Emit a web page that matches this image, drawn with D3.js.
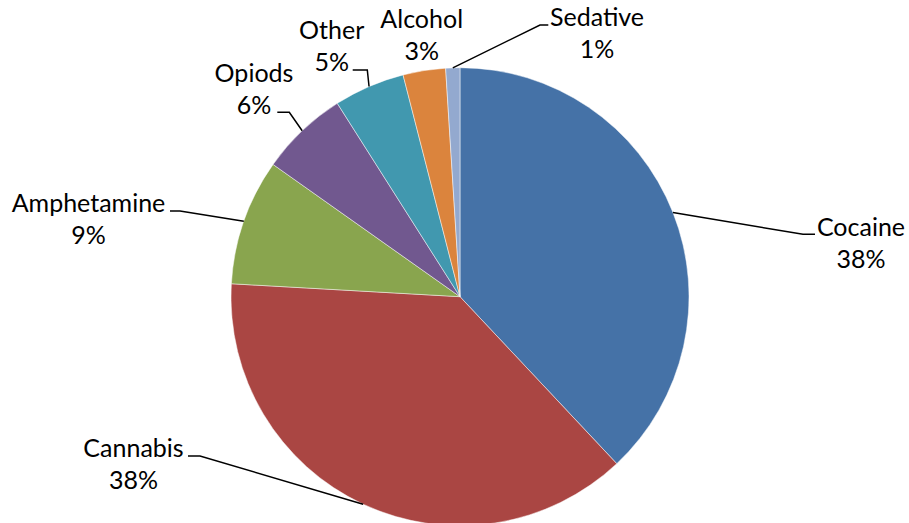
<!DOCTYPE html>
<html>
<head>
<meta charset="utf-8">
<script src="https://cdn.jsdelivr.net/npm/d3@7/dist/d3.min.js"></script>
<style>
html,body{margin:0;padding:0;background:#fff;}
svg{display:block;}
text{font-family:Lato,"Noto Sans",sans-serif;font-size:25px;fill:#000;}
</style>
</head>
<body>
<svg id="chart" width="909" height="523"></svg>
<script>
// Data
const categories = ["Cocaine","Cannabis","Amphetamine","Opiods","Other","Alcohol","Sedative"];
const values = [38.0, 37.9, 8.9, 6.2, 5.0, 3.0, 1.0];
const percentLabels = ["38%","38%","9%","6%","5%","3%","1%"];
const colors = ["#4572A7","#AA4643","#89A54E","#71588F","#4198AF","#DB843D","#93A9CF"];

// Label layout (relative to pie centre): elbow point, line end x, text centre x, first baseline
const labelLayout = [
  {ex:343, ey:-62.4, lx:355, tx:401, ty:-60.7},
  {ex:-260, ey:159.3, lx:-272, tx:-326.5, ty:160},
  {ex:-280, ey:-85.7, lx:-290, tx:-371.5, ty:-85},
  {ex:-170.7, ey:-184.4, lx:-182.7, tx:-206, ty:-215},
  {ex:-92.7, ey:-226.7, lx:-107.3, tx:-128.3, ty:-257.7},
  {ex:null, ey:null, lx:null, tx:-38.3, ty:-268.4},
  {ex:80, ey:-271.7, lx:88.3, tx:137, ty:-270.7}
];

const cx = 460, cy = 296.7, R = 229;
const svg = d3.select("#chart");
const g = svg.append("g").attr("transform", `translate(${cx},${cy})`);

const pie = d3.pie().sort(null).value(d => d.value);
const arcs = pie(categories.map((c,i) => ({name:c, value:values[i], pct:percentLabels[i], color:colors[i], lay:labelLayout[i]})));
const arc = d3.arc().innerRadius(0).outerRadius(R);

g.selectAll("path.slice").data(arcs).enter().append("path")
  .attr("class","slice")
  .attr("d", arc)
  .attr("fill", d => d.data.color)
  .attr("stroke", "#ffffff")
  .attr("stroke-opacity", 0.6)
  .attr("stroke-width", 0.8);

// leader lines
arcs.forEach(d => {
  const L = d.data.lay;
  if (L.ex === null) return;
  const mid = (d.startAngle + d.endAngle) / 2;
  const sx = R * Math.sin(mid), sy = -R * Math.cos(mid);
  g.append("polyline")
    .attr("points", `${sx},${sy} ${L.ex},${L.ey} ${L.lx},${L.ey}`)
    .attr("fill","none")
    .attr("stroke","#000")
    .attr("stroke-width",1.5);
});

// labels
arcs.forEach(d => {
  const L = d.data.lay;
  const t = g.append("text").attr("text-anchor","middle");
  t.append("tspan").attr("x", L.tx).attr("y", L.ty).text(d.data.name);
  t.append("tspan").attr("x", L.tx).attr("y", L.ty + 32).text(d.data.pct);
});
</script>
</body>
</html>
